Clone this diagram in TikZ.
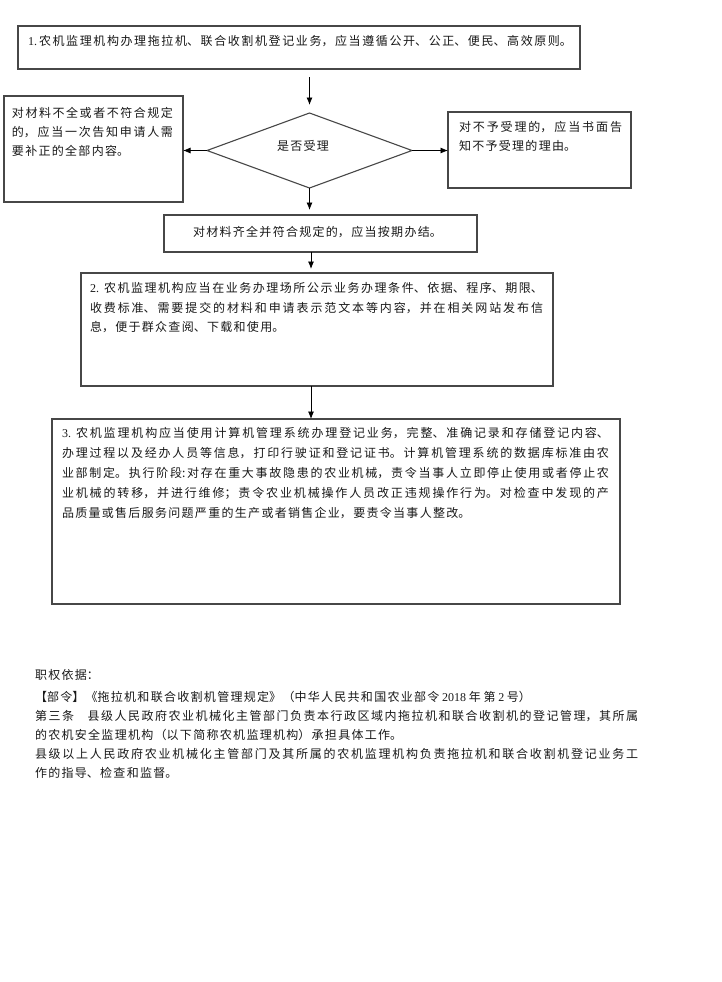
\documentclass[tikz,border=0pt]{standalone}
\usepackage{fontspec}
\usetikzlibrary{arrows.meta,shapes.geometric}
\newfontfamily\cjk{Noto Sans CJK SC}
\newfontfamily\lat{Liberation Serif}
\XeTeXlinebreaklocale "zh"
\XeTeXlinebreakskip=1.3pt plus 3pt
\newcommand\blk[3]{\parbox[t]{#1pt}{\cjk\fontsize{12}{#2}\selectfont\tolerance=10000\hbadness=10000\emergencystretch=0pt #3}}
\tikzset{
  box/.style={draw=black!72, line width=1.1pt, rectangle, inner sep=0pt, outer sep=0pt},
  txt/.style={inner sep=0pt, outer sep=0pt, text=black!90, anchor=base west},
  arr/.style={draw=black, line width=0.8pt, -{Latex[length=7.5pt,width=6pt]}},
}
\begin{document}
\begin{tikzpicture}[x=1pt,y=-1pt]
\useasboundingbox[fill=white] (0,0) rectangle (722,982);
% boxes
\node[box, minimum width=562pt, minimum height=43pt] (b1) at (299,47.5) {};
\node[box, minimum width=179pt, minimum height=106pt] (lbox) at (93.5,149) {};
\node[box, minimum width=183pt, minimum height=76pt] (rbox) at (539.5,150) {};
\node[draw=black!72, line width=1.1pt, diamond, minimum width=205pt, minimum height=75pt, inner sep=0pt, outer sep=0pt] (dia) at (309.5,150.5) {};
\node[box, minimum width=313pt, minimum height=37pt] (mbox) at (320.5,233.5) {};
\node[box, minimum width=472pt, minimum height=113pt] (b2) at (317,329.5) {};
\node[box, minimum width=568pt, minimum height=185pt] (b3) at (336,511.5) {};
\coordinate (ax) at (311,0);
% texts
\node[txt] (t1) at (28,45.6) {\blk{544}{19}{\parfillskip=0pt {\lat 1.}\hspace{2pt}农机监理机构办理拖拉机、联合收割机登记业务，应当遵循公开、公正、便民、高效原则。}};
\node[txt] (lt) at (12,117.6) {\blk{161}{19}{对材料不全或者不符合规定\linebreak 的，应当一次告知申请人需\linebreak 要补正的全部内容。}};
\node[txt] (rt) at (459,131.6) {\blk{163}{18.5}{对不予受理的，应当书面告\linebreak 知不予受理的理由。}};
\node[txt] (dt) at (277,150.6) {\blk{80}{19}{是否受理}};
\node[txt] (mt) at (193,236.6) {\blk{270}{19}{对材料齐全并符合规定的，应当按期办结。}};
\node[txt] (t2) at (90,292.6) {\blk{453}{19.5}{{\lat 2.}\hspace{5pt}农机监理机构应当在业务办理场所公示业务办理条件、依据、程序、期限、\linebreak 收费标准、需要提交的材料和申请表示范文本等内容，并在相关网站发布信\linebreak 息，便于群众查阅、下载和使用。}};
\node[txt] (t3) at (62,437.6) {\blk{547}{20}{{\lat 3.}\hspace{5pt}农机监理机构应当使用计算机管理系统办理登记业务，完整、准确记录和存储登记内容、\linebreak 办理过程以及经办人员等信息，打印行驶证和登记证书。计算机管理系统的数据库标准由农\linebreak 业部制定。执行阶段:对存在重大事故隐患的农业机械，责令当事人立即停止使用或者停止农\linebreak 业机械的转移，并进行维修；责令农业机械操作人员改正违规操作行为。对检查中发现的产\linebreak 品质量或售后服务问题严重的生产或者销售企业，要责令当事人整改。}};
\node[txt] (f1) at (35,679.6) {\blk{603}{19}{职权依据：}};
\node[txt] (f2) at (35,701.6) {\blk{603}{19}{【部令】《拖拉机和联合收割机管理规定》（中华人民共和国农业部令 {\lat 2018} 年 第 {\lat 2} 号）\\ 第三条　县级人民政府农业机械化主管部门负责本行政区域内拖拉机和联合收割机的登记管理，其所属\linebreak 的农机安全监理机构（以下简称农机监理机构）承担具体工作。\\ 县级以上人民政府农业机械化主管部门及其所属的农机监理机构负责拖拉机和联合收割机登记业务工\linebreak 作的指导、检查和监督。}};
% connectors
\draw[arr, shorten <=8pt, shorten >=8pt] (b1.south -| dia.north) -- (dia.north);
\draw[arr] (dia.west) -- (dia.west -| lbox.east);
\draw[arr] (dia.east) -- (dia.east -| rbox.west);
\draw[arr, shorten >=5pt] (dia.south) -- (dia.south |- mbox.north);
\draw[arr, shorten >=4pt] (mbox.south -| ax) -- (b2.north -| ax);
\draw[arr] (b2.south -| ax) -- (b3.north -| ax);
\end{tikzpicture}
\end{document}
